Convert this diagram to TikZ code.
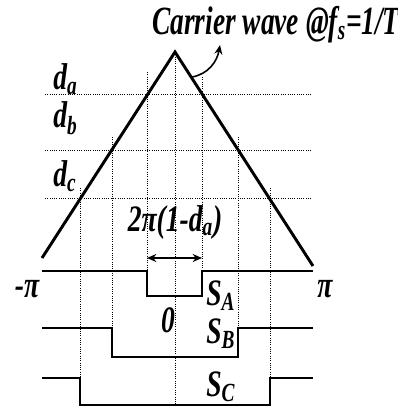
\documentclass[tikz,border=0pt]{standalone}
\usepackage{fontspec}
\newfontfamily\wavefont{Liberation Serif}[FakeStretch=0.74]
\newfontfamily\titlefont{Liberation Serif}[FakeStretch=0.685]
\usetikzlibrary{arrows.meta}
\tikzset{
  lbl/.style={font=\wavefont\bfseries\itshape\fontsize{28}{28}\selectfont, inner sep=0pt},
  grid/.style={densely dotted, line width=0.7pt},
  wave/.style={line width=2.2pt},
  pulse/.style={line width=1.5pt}
}
\begin{document}
\begin{tikzpicture}[x=0.75pt,y=-0.75pt]
\useasboundingbox (0,0) rectangle (398,409);

\draw[grid] (45,94)--(311,94);
\draw[grid] (45,150)--(311,150);
\draw[grid] (45,198)--(311,198);

\draw[grid] (175,52)--(175,405);
\draw[grid] (147,72)--(147,271);
\draw[grid] (202,77)--(202,271);
\draw[grid] (112,137)--(112,328);
\draw[grid] (238,137)--(238,328);
\draw[grid] (80,188)--(80,378);
\draw[grid] (270,188)--(270,378);

\draw[wave] (42,258)--(175,52)--(313,266);

\draw[pulse] (42,271)--(147,271)--(147,296)--(202,296)--(202,271)--(313,271);
\draw[pulse] (42,328)--(112,328)--(112,357)--(238,357)--(238,328)--(313,328);
\draw[pulse] (42,378)--(80,378)--(80,405)--(270,405)--(270,378)--(313,378);

\node[lbl, anchor=base west, font=\titlefont\bfseries\itshape\fontsize{30}{30}\selectfont] (carrier) at (152,35) {Carrier wave @f\textsubscript{s}=1/T};
\coordinate (foot) at (192,77);
\coordinate (tip) at (220,45);
\draw[line width=1.2pt, -{Stealth[length=7pt,width=6pt]}] (foot) to[out=10,in=-100] (tip);

\node[lbl, anchor=base west] (da) at (53,90) {d\textsubscript{a}};
\node[lbl, anchor=base west] (db) at (53,128) {d\textsubscript{b}};
\node[lbl, anchor=base west] (dc) at (53,187) {d\textsubscript{c}};

\node[lbl, anchor=base] (width) at (175,231) {2π(1-d\textsubscript{a})};
\coordinate (wl) at (147,258);
\coordinate (wr) at (202,258);
\draw[line width=1.5pt, {Stealth[length=7pt,width=6pt]}-{Stealth[length=7pt,width=6pt]}] (wl)--(wr);

\node[lbl, anchor=base] (mpi) at (27,297) {-π};
\node[lbl, anchor=base] (ppi) at (325,297) {π};
\node[lbl, anchor=base] (zero) at (168,332) {0};

\node[lbl, anchor=base west] (sa) at (206,305) {S\textsubscript{A}};
\node[lbl, anchor=base west] (sb) at (206,343) {S\textsubscript{B}};
\node[lbl, anchor=base west] (sc) at (206,396) {S\textsubscript{C}};
\end{tikzpicture}
\end{document}
